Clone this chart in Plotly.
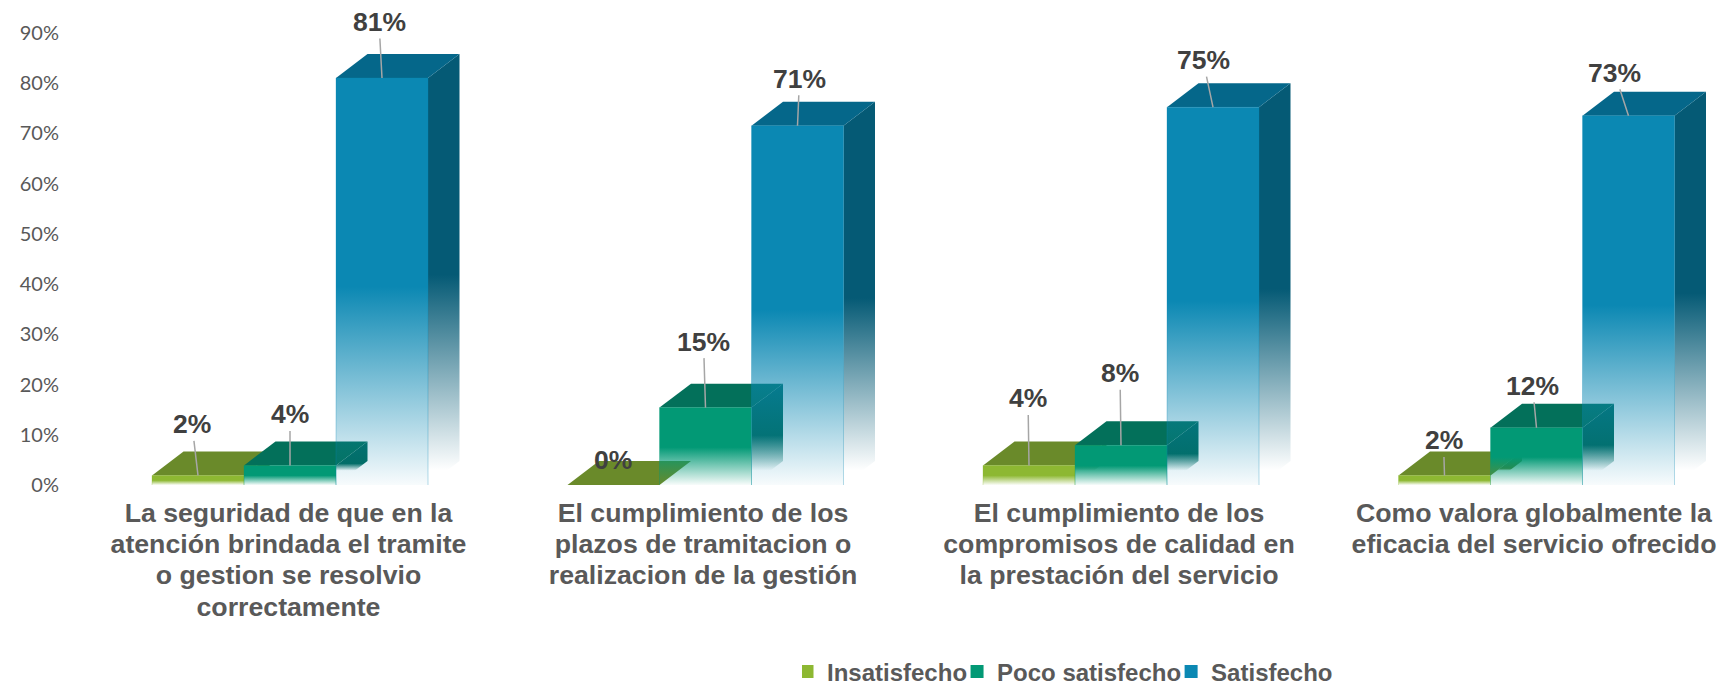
import plotly.graph_objects as go

CATEGORIES = [
    ["La seguridad de que en la", "atención brindada el tramite", "o gestion se resolvio", "correctamente"],
    ["El cumplimiento de los", "plazos de tramitacion o", "realizacion de la gestión"],
    ["El cumplimiento de los", "compromisos de calidad en", "la prestación del servicio"],
    ["Como valora globalmente la", "eficacia del servicio ofrecido"],
]
SERIES_NAMES = ["Insatisfecho", "Poco satisfecho", "Satisfecho"]
INSATISFECHO = [1.9, 0.0, 3.9, 1.9]
POCO_SATISFECHO = [3.9, 15.4, 7.9, 11.4]
SATISFECHO = [81.0, 71.5, 75.2, 73.5]
LABELS_INSATISFECHO = ["2%", "0%", "4%", "2%"]
LABELS_POCO = ["4%", "15%", "8%", "12%"]
LABELS_SATISFECHO = ["81%", "71%", "75%", "73%"]
Y_TICKS = [0, 10, 20, 30, 40, 50, 60, 70, 80, 90]

VALUES = [INSATISFECHO, POCO_SATISFECHO, SATISFECHO]
LABELS = [LABELS_INSATISFECHO, LABELS_POCO, LABELS_SATISFECHO]

# pixel offset of each data label from the middle of its bar's front top edge
LABEL_OFFSETS = [
    [(-6, -51), (-1, -25), (-1, -67), (-1, -35)],
    [(0, -51), (-2, -66), (-1, -72), (-4, -42)],
    [(-3, -56), (2, -47), (-10, -47), (-14, -43)],
]
TICK_NUDGE_PX = [-1.5, -2.5, -2, -2.5]

FRONT = [(141, 184, 50), (2, 153, 117), (11, 136, 179)]
TOP = ["#6A8A2A", "#03705A", "#05678A"]
SIDE = [(88, 120, 30), (0, 105, 92), (5, 90, 117)]

FIG_H = 720          # page is clipped at 684; the extra room keeps the legend box whole
PX_PER_GROUP = 415.5
PX_PER_UNIT = 5.03
BASE_PX = 485.5
BAR_W = 92 / PX_PER_GROUP
DEPTH_X = 31.5 / PX_PER_GROUP
DEPTH_Y = 24 / PX_PER_UNIT
FADE = 0.487


def rgba(c, a):
    return f"rgba({c[0]},{c[1]},{c[2]},{a})"


fig = go.Figure()

for s, (name, vals) in enumerate(zip(SERIES_NAMES, VALUES)):
    for i, v in enumerate(vals):
        x0 = i - 1.5 * BAR_W + s * BAR_W
        x1 = x0 + BAR_W
        common = dict(mode="lines", hoverinfo="skip", showlegend=False, fill="toself")
        if v > 0:
            start = DEPTH_Y * 0.6
            stop = v + DEPTH_Y
            knee = (FADE * v + DEPTH_Y / 2 - start) / (stop - start)
            fig.add_trace(go.Scatter(
                x=[x1, x1 + DEPTH_X, x1 + DEPTH_X, x1, x1],
                y=[0, DEPTH_Y, v + DEPTH_Y, v, 0],
                line=dict(width=0),
                fillgradient=dict(type="vertical", start=start, stop=stop,
                                  colorscale=[[0, rgba(SIDE[s], 0)], [knee, rgba(SIDE[s], 1)], [1, rgba(SIDE[s], 1)]]),
                **common))
        fig.add_trace(go.Scatter(
            x=[x0, x1, x1 + DEPTH_X, x0 + DEPTH_X, x0],
            y=[v, v, v + DEPTH_Y, v + DEPTH_Y, v],
            line=dict(width=0), fillcolor=TOP[s], **common))
        if v > 0:
            fig.add_trace(go.Scatter(
                x=[x0, x0, x1, x1],
                y=[0, v, v, 0],
                line=dict(width=1, color=rgba(FRONT[s], 0.3)),
                fillgradient=dict(type="vertical", start=0, stop=v,
                                  colorscale=[[0, rgba(FRONT[s], 0.03)], [FADE, rgba(FRONT[s], 1)], [1, rgba(FRONT[s], 1)]]),
                **common))

# legend entries
for s, name in enumerate(SERIES_NAMES):
    fig.add_trace(go.Scatter(
        x=[None], y=[None], mode="markers", name=name, hoverinfo="skip",
        marker=dict(symbol="square", size=13, color=rgba(FRONT[s], 1), line=dict(width=0))))

annotations = []
for s, vals in enumerate(VALUES):
    for i, v in enumerate(vals):
        dx, dy = LABEL_OFFSETS[s][i]
        annotations.append(dict(
            x=i - 1.0 * BAR_W + s * BAR_W, y=v, xref="x", yref="y",
            text=f"<b>{LABELS[s][i]}</b>",
            font=dict(family="Liberation Sans", size=26.5, color="#404040"),
            showarrow=True, arrowhead=0, arrowwidth=1.5,
            arrowcolor="#A6A6A6" if v > 0 else "rgba(0,0,0,0)",
            ax=dx, ay=dy, axref="pixel", ayref="pixel", standoff=0, startstandoff=0,
        ))


def tick_text(lines):
    return "<br>".join(f'<span style="font-size:26.7px"><b>{t}</b></span>' for t in lines)


fig.update_layout(
    width=1719, height=FIG_H, autosize=False,
    margin=dict(l=70, r=0, t=0, b=FIG_H - BASE_PX),
    paper_bgcolor="white", plot_bgcolor="white",
    annotations=annotations,
    showlegend=True,
    legend=dict(orientation="h", x=1070 / 1719, xref="container", xanchor="center",
                y=(FIG_H - 672) / FIG_H, yanchor="middle", yref="container",
                font=dict(family="Liberation Sans", size=24, color="#595959", weight="bold"),
                traceorder="normal", itemwidth=30, indentation=-15),
    xaxis=dict(range=[(70 - 290) / PX_PER_GROUP, (1719 - 290) / PX_PER_GROUP],
               tickmode="array",
               tickvals=[i + TICK_NUDGE_PX[i] / PX_PER_GROUP for i in range(4)],
               ticktext=[tick_text(c) for c in CATEGORIES],
               tickangle=0, showgrid=False, zeroline=False, showline=False, ticks="",
               tickfont=dict(family="Liberation Sans", size=24, color="#595959"),
               ticklabelstandoff=12),
    yaxis=dict(range=[0, BASE_PX / PX_PER_UNIT], tickmode="array", tickvals=Y_TICKS,
               ticktext=[f"{t}%" for t in Y_TICKS],
               showgrid=False, zeroline=False, showline=False, ticks="",
               tickfont=dict(family="Lato", size=20, color="#595959"),
               ticklabelstandoff=10),
)

fig.write_html("out.html", config={"displayModeBar": False},
               post_script="document.body.style.margin='0';document.documentElement.style.overflow='hidden';document.body.style.overflow='hidden';")
